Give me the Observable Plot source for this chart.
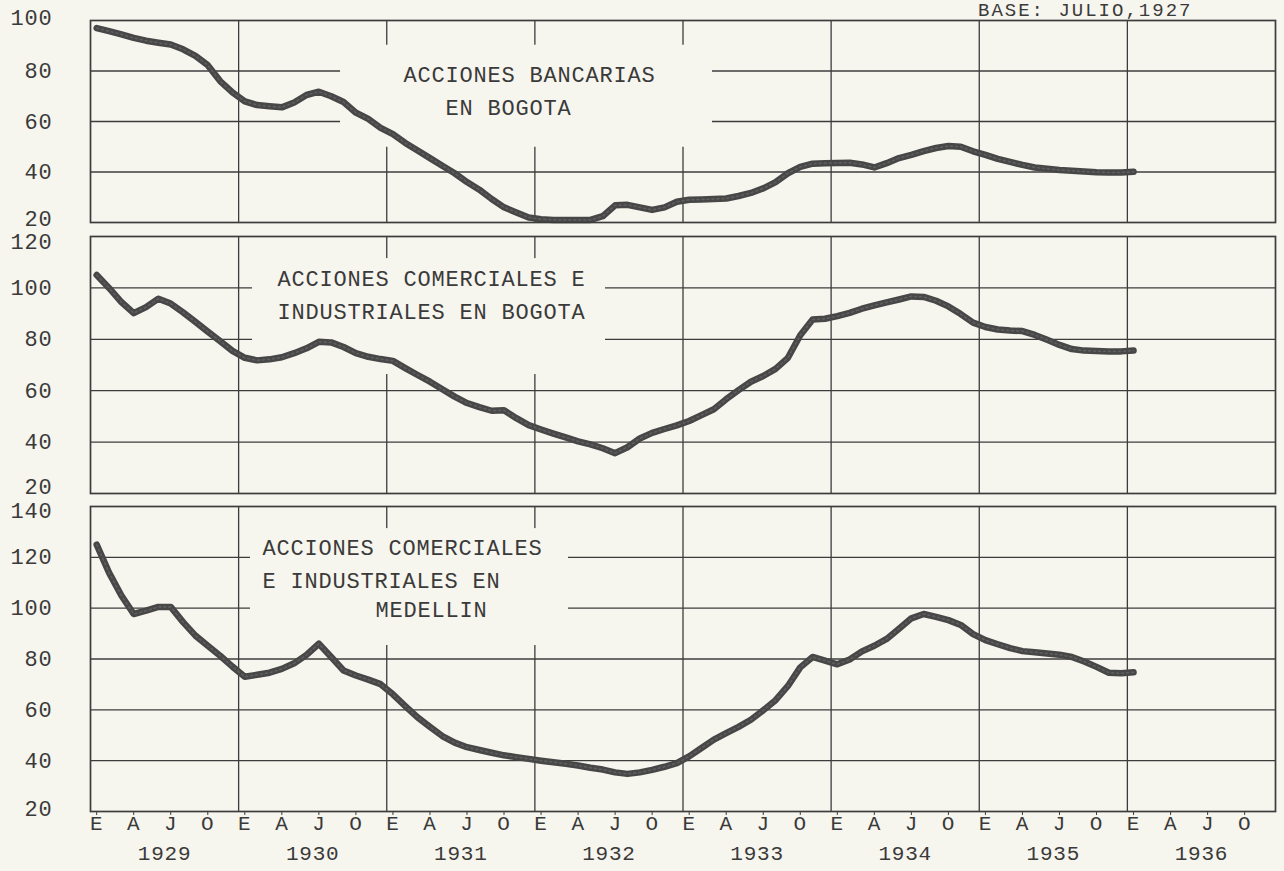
<!DOCTYPE html>
<html>
<head>
<meta charset="utf-8">
<script src="https://cdn.jsdelivr.net/npm/d3@7"></script>
<script src="https://cdn.jsdelivr.net/npm/@observablehq/plot@0.6"></script>
<style>
  html, body { margin: 0; padding: 0; background: #f6f5ee; }
  #chart { position: relative; width: 1284px; height: 871px; overflow: hidden;
           font-family: "Liberation Mono", "DejaVu Sans Mono", monospace; color: #3a3a3a; }
  #chart svg { position: absolute; left: 0; overflow: visible; }
  #chart svg text { letter-spacing: 0.8px; }
  #base { position: absolute; left: 978px; top: 2px; font-size: 19px; line-height: 19px; letter-spacing: 2px; white-space: pre; }
</style>
</head>
<body>
<div id="chart"><div id="base">BASE: JULIO,1927</div></div>
<script>
// ---- data (monthly index numbers, Jan 1929 – Jan 1936) ----
const firstYear = 1929;
const years = [1929, 1930, 1931, 1932, 1933, 1934, 1935, 1936];
const monthLetters = ["E", "A", "J", "O"];      // Enero, Abril, Julio, Octubre
const monthIndexes = [0, 3, 6, 9];

const bancariasBogota = [
  97, 95.8, 94.5, 93.1, 92, 91.2, 90.5, 88.6, 86, 82.3, 76, 71.5,
  68, 66.5, 66, 65.6, 67.5, 70.5, 71.8, 70, 67.7, 63.5, 61, 57.5,
  55, 51.5, 48.5, 45.5, 42.5, 39.5, 36, 33, 29.3, 26, 24, 22,
  21.3, 21, 21, 21, 21, 22.5, 26.8, 27, 26, 25, 26, 28.2,
  29, 29.1, 29.3, 29.5, 30.5, 31.7, 33.5, 36, 39.5, 42, 43.3, 43.5,
  43.6, 43.7, 43, 41.8, 43.5, 45.5, 46.8, 48.3, 49.5, 50.3, 50, 48.2,
  46.8, 45.2, 44, 42.8, 41.8, 41.3, 40.8, 40.5, 40.2, 39.9, 39.8, 39.8,
  40.1
];
const comercialesBogota = [
  105, 100, 94.5, 90.2, 92.5, 95.8, 93.9, 90.5, 86.8, 83, 79.3, 75.5,
  72.8, 71.8, 72.2, 73, 74.6, 76.5, 79, 78.8, 77, 74.6, 73.2, 72.3,
  71.6, 68.8, 66.1, 63.5, 60.6, 57.7, 55.2, 53.6, 52.2, 52.4, 49.3, 46.6,
  44.9, 43.3, 41.8, 40.3, 39.1, 37.6, 35.7, 38, 41.4, 43.6, 45.1, 46.5,
  48.2, 50.5, 52.8, 56.7, 60.2, 63.5, 65.7, 68.5, 72.8, 81.6, 87.7, 88,
  89, 90.3, 91.9, 93.2, 94.4, 95.5, 96.7, 96.5, 95, 92.8, 89.8, 86.5,
  84.8, 83.8, 83.4, 83.2, 81.7, 79.8, 77.8, 76.2, 75.6, 75.4, 75.3, 75.3,
  75.6
];
const comercialesMedellin = [
  125, 114, 105, 97.7, 99, 100.5, 100.5, 94.5, 89.2, 85.2, 81.3, 77,
  73, 73.8, 74.6, 76.1, 78.3, 81.6, 86, 80.8, 75.5, 73.5, 71.9, 70.1,
  66.1, 61.5, 57, 53.3, 49.7, 47.1, 45.3, 44.2, 43.1, 42.1, 41.4, 40.7,
  40, 39.4, 38.8, 38.1, 37.2, 36.5, 35.4, 34.8, 35.4, 36.4, 37.6, 39,
  41.7, 45, 48.3, 50.8, 53.3, 56.1, 59.8, 63.8, 69.4, 76.7, 80.8, 79.4,
  77.9, 79.8, 83, 85.2, 87.9, 91.9, 96, 97.7, 96.6, 95.3, 93.4, 89.8,
  87.4, 85.8, 84.3, 83.1, 82.7, 82.2, 81.7, 80.8, 79, 76.9, 74.6, 74.4,
  74.8
];

// panel titles (lines of typed text) and the blank paper behind them
const titles1 = [
  {x: 1931.113, y: 78.6, text: "ACCIONES BANCARIAS"},
  {x: 1931.397, y: 65.2, text: "EN BOGOTA"}
];
const titles2 = [
  {x: 1930.262, y: 103.5, text: "ACCIONES COMERCIALES E"},
  {x: 1930.262, y: 90.8, text: "INDUSTRIALES EN BOGOTA"}
];
const titles3 = [
  {x: 1930.161, y: 123.5, text: "ACCIONES COMERCIALES"},
  {x: 1930.161, y: 110.9, text: "E INDUSTRIALES EN"},
  {x: 1930.924, y: 99.2, text: "MEDELLIN"}
];
const blank1 = {x1: 1930.688, x2: 1933.199, y1: 49.8, y2: 90.2};
const blank2 = {x1: 1930.094, x2: 1932.477, y1: 66.3, y2: 111.4};
const blank3 = {x1: 1930.080, x2: 1932.227, y1: 85.3, y2: 131.3};

// ---- drawing ----
const paper = "#f6f5ee";
const ink = "#3a3a3a";
const gridInk = "#3c3c3c";
const lineInk = "#474747";

const toSeries = vals => vals.map((v, i) => ({t: firstYear + (i + 0.5) / 12, v}));
const yearLines = years.slice(1);
const monthTicks = years.flatMap(y => monthIndexes.map(m => y + (m + 0.5) / 12));
const letterFor = t => {
  const m = Math.round((t - Math.floor(t)) * 12 - 0.5);
  return monthLetters[monthIndexes.indexOf(m)];
};

function panel({values, top, height, marginTop, marginBottom, domain, grid, blank, titles, dyTop, dyBottom, xAxis}) {
  const ticks = d3.range(domain[0], domain[1] + 1, 20);
  const mid = ticks.slice(1, -1);
  const marks = [
    Plot.ruleY(grid, {y: d => d, stroke: gridInk, strokeWidth: 1.3}),
    Plot.ruleX(yearLines, {x: d => d, stroke: gridInk, strokeWidth: 1.3}),
    Plot.rect([blank], {x1: "x1", x2: "x2", y1: "y1", y2: "y2", fill: paper}),
    Plot.text(titles, {x: "x", y: "y", text: "text", textAnchor: "start", fontSize: 22, fill: ink}),
    Plot.axisY(mid, {anchor: "left", tickSize: 0, tickPadding: 38, fontSize: 22, label: null, fill: ink}),
    Plot.axisY([domain[0]], {anchor: "left", tickSize: 0, tickPadding: 38, fontSize: 22, label: null, dy: dyBottom, fill: ink}),
    Plot.axisY([domain[1]], {anchor: "left", tickSize: 0, tickPadding: 38, fontSize: 22, label: null, dy: dyTop, fill: ink}),
    Plot.line(toSeries(values), {x: "t", y: "v", stroke: lineInk, strokeWidth: 6.5,
      strokeLinecap: "round", strokeLinejoin: "round"}),
    Plot.line(toSeries(values), {x: "t", y: "v", stroke: "#6e6e6e", strokeWidth: 1.6,
      strokeDasharray: "2 3", strokeOpacity: 0.6}),
    Plot.frame({stroke: gridInk, strokeWidth: 1.7})
  ];
  if (xAxis) {
    marks.push(
      Plot.axisX(monthTicks, {anchor: "bottom", tickSize: 4, tickPadding: 0, fontSize: 21,
        tickFormat: letterFor, label: null, stroke: gridInk, fill: ink}),
      Plot.text(years, {x: d => d + 0.5, text: d => String(d), frameAnchor: "bottom",
        lineAnchor: "middle", dy: 42, fontSize: 21, fill: ink})
    );
  }
  const svg = Plot.plot({
    width: 1284, height, marginLeft: 90, marginRight: 9, marginTop, marginBottom,
    x: {type: "linear", domain: [1929, 1937], axis: null},
    y: {domain, axis: null},
    style: {background: "transparent", color: ink, overflow: "visible",
            fontFamily: "'Liberation Mono', 'DejaVu Sans Mono', monospace"},
    marks
  });
  svg.style.top = top + "px";
  document.getElementById("chart").appendChild(svg);
}

panel({values: bancariasBogota, top: 0, height: 228, marginTop: 20, marginBottom: 6,
  domain: [20, 100], grid: [40, 60, 80], blank: blank1, titles: titles1, dyTop: -3, dyBottom: -4, xAxis: false});
panel({values: comercialesBogota, top: 228, height: 268, marginTop: 8, marginBottom: 3,
  domain: [20, 120], grid: [40, 60, 80, 100], blank: blank2, titles: titles2, dyTop: 5, dyBottom: -7, xAxis: false});
panel({values: comercialesMedellin, top: 496, height: 375, marginTop: 10, marginBottom: 60,
  domain: [20, 140], grid: [40, 60, 80, 100, 120], blank: blank3, titles: titles3, dyTop: 4, dyBottom: -3, xAxis: true});
</script>
</body>
</html>
